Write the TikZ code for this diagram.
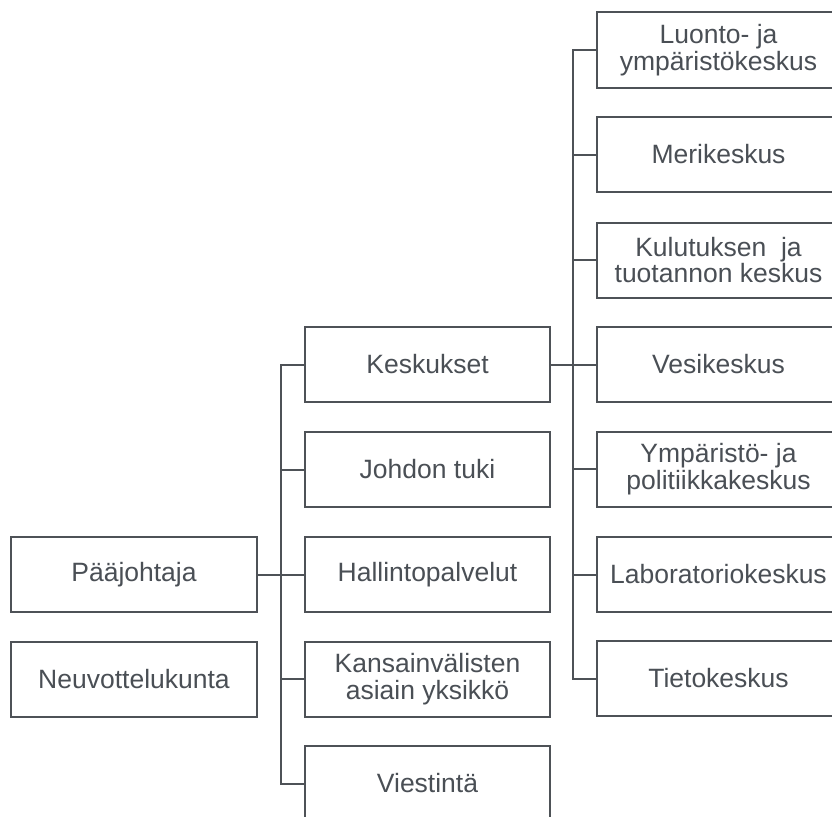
\documentclass[tikz,border=0pt]{standalone}
\usepackage{fontspec}
\setmainfont{Liberation Sans}
\definecolor{ln}{HTML}{4E5257}
\definecolor{tx}{HTML}{4A4F55}
\begin{document}
\begin{tikzpicture}[x=1pt,y=-1pt,
  box/.style={draw=ln,line width=2pt,fill=white,text=tx,align=center,
    inner sep=0pt,font=\fontsize{26.5}{26.5}\selectfont},
  lbox/.style={box,minimum width=246pt,minimum height=75pt},
  mbox/.style={box,minimum width=245pt,minimum height=75pt},
  rbox/.style={box,minimum width=243pt,minimum height=75pt},
  conn/.style={draw=ln,line width=2pt,line join=miter}]
\useasboundingbox (0,0) rectangle (832,816);
\clip (0,0) rectangle (832,816);
% left
\node[lbox] (paa) at (134,574.5) {Pääjohtaja};
\node[lbox] (neuv) at (134,679) {Neuvottelukunta};
% middle
\node[mbox] (kesk) at (427.5,364.5) {Keskukset};
\node[mbox] (johd) at (427.5,469.5) {Johdon tuki};
\node[mbox] (hall) at (427.5,574.5) {Hallintopalvelut};
\node[mbox] (kans) at (427.5,679) {Kansainvälisten\\asiain yksikkö};
\node[mbox] (vies) at (427.5,783.5) {Viestintä};
% right
\node[rbox] (luon) at (718.5,50) {Luonto- ja\\ympäristökeskus};
\node[rbox] (meri) at (718.5,154.5) {Merikeskus};
\node[rbox] (kulu) at (718.5,260) {Kulutuksen\ \ ja\\tuotannon\ keskus};
\node[rbox] (vesi) at (718.5,364.5) {Vesikeskus};
\node[rbox] (ymp) at (718.5,469) {Ympäristö- ja\\politiikkakeskus};
\node[rbox] (lab) at (718.5,574.5) {Laboratoriokeskus};
\node[rbox] (tiet) at (718.5,678.5) {Tietokeskus};
% middle spine
\coordinate (ms) at (281,0);
\draw[conn] (kesk.west) -| (ms |- vies.west) -- (vies.west);
\draw[conn] (paa.east) -- (hall.west);
\draw[conn] (johd.west) -- (ms |- johd.west);
\draw[conn] (kans.west) -- (ms |- kans.west);
% right spine
\coordinate (rs) at (573,0);
\draw[conn] (luon.west) -| (rs |- tiet.west) -- (tiet.west);
\draw[conn] (kesk.east) -- (vesi.west);
\foreach \n in {meri,kulu,ymp,lab}
  \draw[conn] (\n.west) -- (rs |- \n.west);
\end{tikzpicture}
\end{document}
